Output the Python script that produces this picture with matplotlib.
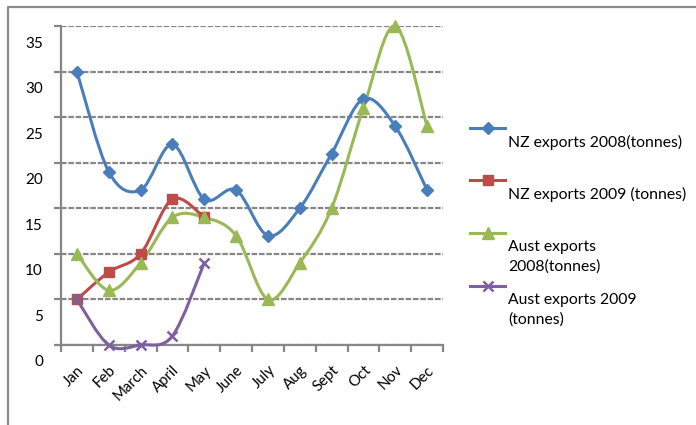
import matplotlib
matplotlib.use("Agg")
import matplotlib.pyplot as plt
from matplotlib.path import Path
from matplotlib.patches import PathPatch
from matplotlib.lines import Line2D
from matplotlib.transforms import ScaledTranslation
import numpy as np

months = ["Jan", "Feb", "March", "April", "May", "June", "July",
          "Aug", "Sept", "Oct", "Nov", "Dec"]
nz_2008 = [30, 19, 17, 22, 16, 17, 12, 15, 21, 27, 24, 17]
nz_2009 = [5, 8, 10, 16, 14]
aust_2008 = [10, 6, 9, 14, 14, 12, 5, 9, 15, 26, 35, 24]
aust_2009 = [5, 0, 0, 1, 9]
yticks = [0, 5, 10, 15, 20, 25, 30, 35]

series = [
    ("NZ exports 2008(tonnes)", nz_2008, "#4a7ebb", "D", 6.5),
    ("NZ exports 2009 (tonnes)", nz_2009, "#be4b48", "s", 7.5),
    ("Aust exports\n2008(tonnes)", aust_2008, "#98b954", "^", 8),
    ("Aust exports 2009\n(tonnes)", aust_2009, "#7d60a0", "x", 7),
]

plt.rcParams["font.family"] = ["Lato", "DejaVu Sans"]
W, H = 696, 425
fig = plt.figure(figsize=(W / 100, H / 100), dpi=100)
ax = fig.add_axes([61 / W, 1 - 345 / H, (443 - 61) / W, (345 - 26) / H])

grey = "#868686"


def smooth_path(xs, ys):
    # excel-like smoothed line: bezier segments with catmull-rom control points
    pts = np.column_stack([xs, ys]).astype(float)
    n = len(pts)
    verts = [pts[0]]
    codes = [Path.MOVETO]
    for i in range(n - 1):
        p0 = pts[max(i - 1, 0)]
        p1 = pts[i]
        p2 = pts[i + 1]
        p3 = pts[min(i + 2, n - 1)]
        c1 = p1 + (p2 - p0) / 6.0
        c2 = p2 - (p3 - p1) / 6.0
        verts += [c1, c2, p2]
        codes += [Path.CURVE4] * 3
    return Path(verts, codes)


for label, vals, color, marker, ms in series:
    x = np.arange(len(vals))
    ax.add_patch(PathPatch(smooth_path(x, vals), fill=False, edgecolor=color,
                           lw=2.2, zorder=3, capstyle="round", joinstyle="round",
                           clip_on=False))
    ax.plot(x, vals, ls="none", marker=marker, ms=ms, color=color,
            mew=1.8 if marker == "x" else 1, zorder=4, clip_on=False)

ax.set_xlim(-0.5, 11.5)
ax.set_ylim(0, 35)
ax.set_yticks(yticks)
ax.set_yticklabels([str(v) for v in yticks])
ax.yaxis.grid(True, color=grey, lw=1.6, ls=(0, (2.5, 0.8)))
ax.set_axisbelow(True)

ax.set_xticks(np.arange(-0.5, 12, 1))
ax.set_xticklabels([])
ax.set_xticks(np.arange(12), minor=True)
ax.set_xticklabels(months, minor=True, rotation=45, ha="right",
                   rotation_mode="anchor", fontsize=10.8)
ax.tick_params(axis="x", which="minor", length=0, pad=13)
ax.tick_params(axis="x", which="major", length=5, width=1.6, color=grey)
ax.tick_params(axis="y", length=5, width=1.6, color=grey, labelsize=11, pad=8)

for s in ["top", "right"]:
    ax.spines[s].set_visible(False)
for s in ["left", "bottom"]:
    ax.spines[s].set_color(grey)
    ax.spines[s].set_linewidth(1.6)

# y labels sit a little below their gridlines in the original
off = ScaledTranslation(0, -0.16, fig.dpi_scale_trans)
for t in ax.yaxis.get_major_ticks():
    t.label1.set_transform(t.label1.get_transform() + off)

# outer chart border (top and left only visible)
fig.add_artist(Line2D([8 / W, 8 / W, 1.0], [0.0, 1 - 7 / H, 1 - 7 / H],
                      transform=fig.transFigure, color="#8c8c8c", lw=1.6))

# legend drawn by hand: sample line above its text
leg_rows = [128, 180, 233, 286]
for (label, vals, color, marker, ms), y in zip(series, leg_rows):
    fy = 1 - y / H
    fig.add_artist(Line2D([470 / W, 488 / W, 505 / W], [fy, fy, fy],
                          transform=fig.transFigure, color=color, lw=2.2,
                          marker=marker, ms=ms, markevery=[1],
                          mew=1.8 if marker == "x" else 1))
    fig.text(508 / W, 1 - (y + 7) / H, label, fontsize=11.3, va="top",
             ha="left", linespacing=1.45)

fig.savefig("out.png", dpi=100)
